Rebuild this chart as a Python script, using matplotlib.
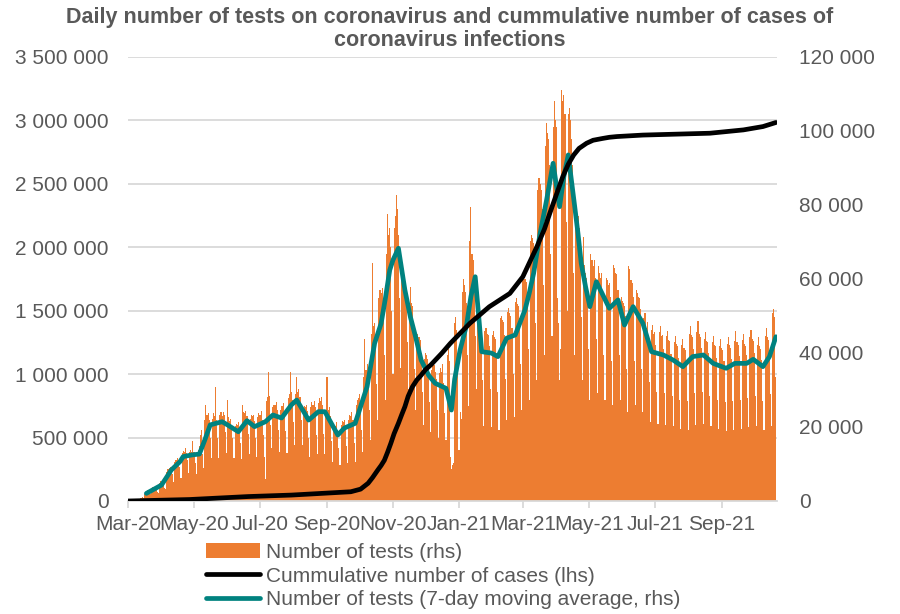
import numpy as np
import pandas as pd
import matplotlib
matplotlib.use("Agg")
import matplotlib.pyplot as plt
import matplotlib.dates as mdates
from matplotlib.ticker import FuncFormatter, MultipleLocator
from matplotlib.patches import Patch
from matplotlib.lines import Line2D

plt.rcParams['font.family'] = ['Liberation Sans', 'DejaVu Sans']

# daily number of tests, in thousands, from Sun 1 Mar 2020 (then Mon..Sun rows)
start = pd.Timestamp("2020-03-01")
tests_k = [
    0,
    0, 0, 0, 0, 0, 0, 0,
    0, 0, 0, 0, 20, 30, 25,
    55, 70, 80, 85, 90, 65, 55,
    100, 110, 105, 115, 100, 70, 60,
    140, 155, 150, 160, 145, 100, 95,
    230, 250, 260, 265, 255, 210, 150,
    310, 325, 320, 340, 320, 270, 180,
    375, 395, 385, 420, 380, 320, 220,
    390, 400, 390, 470, 385, 300, 210,
    390, 400, 430, 520, 560, 370, 260,
    640, 760, 680, 690, 640, 500, 340,
    650, 690, 670, 900, 640, 500, 340,
    680, 700, 670, 700, 680, 540, 380,
    800, 660, 630, 650, 600, 500, 340,
    590, 610, 600, 620, 570, 460, 330,
    760, 700, 690, 710, 670, 530, 370,
    650, 680, 670, 680, 630, 500, 350,
    660, 690, 680, 710, 640, 520, 350,
    170, 790, 820, 1020, 830, 600, 420,
    740, 760, 760, 780, 720, 560, 390,
    720, 750, 750, 770, 710, 550, 380,
    810, 840, 1020, 860, 800, 620, 440,
    840, 980, 860, 880, 820, 640, 440,
    720, 750, 740, 760, 710, 500, 350,
    740, 780, 760, 790, 740, 520, 370,
    770, 810, 790, 820, 760, 530, 370,
    700, 980, 720, 740, 670, 470, 310,
    580, 600, 590, 620, 560, 420, 280,
    600, 630, 620, 640, 590, 430, 300,
    640, 680, 670, 700, 640, 460, 310,
    760, 800, 810, 840, 780, 560, 390,
    980, 1280, 1030, 1080, 980, 720, 480,
    1320, 1880, 1380, 1400, 1280, 920, 640,
    1600, 1660, 1640, 1680, 1560, 1150, 800,
    1950, 2260, 2100, 2150, 2000, 1500, 1000,
    2150, 2250, 2410, 2300, 2100, 1600, 1050,
    1800, 1850, 1830, 1780, 1660, 1250, 880,
    1500, 1690, 1560, 1540, 1420, 1040, 720,
    1270, 1320, 1290, 1270, 1170, 860, 600,
    1120, 1170, 1150, 1120, 1050, 780, 540,
    1030, 1090, 1070, 1020, 960, 720, 500,
    1010, 1050, 1020, 1080, 930, 690, 480,
    1150, 1200, 1100, 350, 250, 280, 300,
    1400, 1450, 1350, 1100, 400, 700, 650,
    1650, 1750, 1700, 1650, 1560, 1150, 750,
    2050, 2320, 1950, 1900, 1760, 1300, 880,
    1400, 1360, 1340, 1310, 1220, 950, 590,
    1340, 1360, 1320, 1310, 1220, 880, 580,
    1310, 1340, 1290, 1280, 1170, 860, 560,
    1440, 1460, 1430, 1410, 1310, 960, 640,
    1490, 1520, 1480, 1460, 1360, 1000, 660,
    1570, 1600, 1550, 1540, 1440, 1080, 720,
    1750, 1800, 1750, 1730, 1600, 1200, 800,
    2050, 2100, 2070, 2030, 1900, 1400, 950,
    2450, 2550, 2500, 2450, 2300, 1700, 1150,
    2800, 2980, 2900, 2850, 2650, 1950, 1300,
    2950, 3150, 3000, 2950, 1600, 1400, 950,
    1200, 3240, 3150, 3200, 3050, 2200, 1500,
    3050, 3100, 3000, 2850, 2650, 1800, 1150,
    2350, 2300, 2250, 2150, 2000, 1450, 950,
    2080, 1860, 1800, 1760, 1660, 1200, 800,
    1950, 1900, 1850, 1900, 1760, 1280, 850,
    1850, 1800, 1760, 1800, 1660, 1150, 800,
    1760, 1740, 1700, 1720, 1610, 1100, 760,
    1860, 1840, 1800, 1790, 1660, 1150, 800,
    1610, 1580, 1560, 1540, 1460, 1040, 700,
    1850, 1830, 1740, 1720, 1610, 1100, 760,
    1660, 1640, 1610, 1600, 1510, 1040, 700,
    1440, 1480, 1360, 1410, 1270, 940, 620,
    1350, 1390, 1320, 1330, 1230, 860, 610,
    1330, 1380, 1300, 1310, 1200, 850, 600,
    1300, 1340, 1270, 1260, 1160, 830, 590,
    1250, 1300, 1240, 1220, 1130, 800, 570,
    1230, 1280, 1210, 1190, 1110, 790, 560,
    1320, 1380, 1310, 1290, 1200, 850, 600,
    1330, 1420, 1320, 1290, 1210, 860, 610,
    1280, 1330, 1260, 1250, 1170, 830, 590,
    1250, 1300, 1230, 1220, 1130, 800, 570,
    1220, 1280, 1210, 1190, 1100, 780, 550,
    1240, 1290, 1230, 1210, 1120, 790, 560,
    1260, 1340, 1250, 1230, 1140, 800, 570,
    1270, 1320, 1240, 1220, 1150, 810, 580,
    1290, 1350, 1280, 1260, 1170, 830, 590,
    1230, 1290, 1220, 1200, 1110, 790, 560,
    1300, 1360, 1290, 1270, 1180, 840, 590,
    1480, 1510, 1450, 980,
]

# 7-day moving average of tests (thousands), read at day offsets from start
ma_day = [17, 31, 40, 48, 51, 59, 66, 71, 76, 87, 92, 102, 110, 117, 127, 134,
          142, 151, 156, 167, 176, 182, 194, 200, 210, 214, 221, 228, 234, 238,
          242, 245, 250, 256, 261, 266, 271, 278, 284, 294, 299, 302, 307, 313,
          317, 321, 324, 327, 336, 342, 350, 358, 367, 371, 375, 381, 387, 393,
          399, 403, 407, 413, 416, 419, 423, 427, 433, 445, 453, 459, 467, 476,
          484, 495, 504, 513, 522, 532, 541, 553, 561, 572, 578, 587, 593, 599]
ma_k = [60, 126, 244, 310, 350, 363, 370, 481, 600, 625, 600, 546, 633, 586, 625, 678,
        654, 757, 796, 638, 704, 704, 520, 575, 612, 717, 901, 1243, 1400, 1600,
        1821, 1900, 1992, 1663, 1453, 1290, 1111, 990, 928, 888, 717, 960, 1190, 1387,
        1611, 1768, 1480, 1177, 1166, 1138, 1283, 1309, 1506, 1640, 1795, 2110, 2373, 2662,
        2320, 2560, 2728, 2320, 2110, 1874, 1690, 1532, 1729, 1519, 1585, 1387, 1532, 1401,
        1177, 1151, 1111, 1059, 1138, 1151, 1085, 1046, 1085, 1085, 1117, 1059, 1138, 1295]

# cumulative number of cases (thousands)
cases_day = [0, 57, 111, 151, 206, 215, 222, 226, 231, 234, 237, 240, 243, 246, 250,
             253, 256, 259, 263, 267, 271, 275, 280, 290, 298, 316, 334, 353, 365,
             378, 385, 390, 396, 402, 407, 412, 417, 424, 430, 439, 445, 452, 476,
             538, 569, 587, 599]
cases_k = [0, 0.4, 1.2, 1.6, 2.5, 3.2, 4.8, 6.3, 8.4, 9.6, 11, 13.2, 15.6, 18.2, 21,
           23.3, 25.5, 28.3, 30.9, 32.7, 34, 35.5, 36.8, 39.9, 42.6, 48, 52.5, 56.1, 60.6,
           68.7, 73.5, 77.8, 82.8, 87.7, 91, 93.5, 95.3, 96.7, 97.5, 98, 98.3, 98.5, 98.9,
           99.4, 100.3, 101.2, 102.3]

title_lines = ["Daily number of tests on coronavirus and cummulative number of cases of",
               "coronavirus infections"]

ORANGE = "#ED7D31"
TEAL = "#00827F"
GREY = "#595959"
GRID = "#D9D9D9"

dates = pd.date_range(start, periods=len(tests_k), freq="D")
tests = np.array(tests_k) * 1000
ma_dates = start + pd.to_timedelta(ma_day, unit="D")
cases_dates = start + pd.to_timedelta(cases_day, unit="D")


def space_fmt(v, pos):
    return f"{int(round(v)):,}".replace(",", " ")


fig = plt.figure(figsize=(9, 6.14), dpi=100)
ax = fig.add_axes([128 / 900, 1 - 501 / 614, (777 - 128) / 900, (501 - 57) / 614])
ax2 = ax.twinx()

ax.bar(dates, tests, width=1.0, color=ORANGE, linewidth=0, antialiased=False, zorder=2)
ax.plot(ma_dates, np.array(ma_k) * 1000, color=TEAL, lw=3.4, zorder=3,
        solid_capstyle="round", solid_joinstyle="round")
ax2.plot(cases_dates, np.array(cases_k) * 1000, color="black", lw=3.4,
         solid_capstyle="round", solid_joinstyle="round")

ax.set_ylim(0, 3500000)
ax.yaxis.set_major_locator(MultipleLocator(500000))
ax.yaxis.set_major_formatter(FuncFormatter(space_fmt))
ax2.set_ylim(0, 120000)
ax2.yaxis.set_major_locator(MultipleLocator(20000))
ax2.yaxis.set_major_formatter(FuncFormatter(space_fmt))

ax.set_xlim(start, pd.Timestamp("2021-10-22"))
ax.xaxis.set_major_locator(mdates.MonthLocator(bymonth=[1, 3, 5, 7, 9, 11]))
ax.xaxis.set_major_formatter(mdates.DateFormatter("%b-%y"))

ax.set_axisbelow(True)
ax.yaxis.grid(True, color=GRID, lw=1.3)
for a in (ax, ax2):
    for s in a.spines.values():
        s.set_visible(False)
ax.spines["bottom"].set_visible(True)
ax.spines["bottom"].set_color(GRID)
ax.spines["bottom"].set_linewidth(1.3)

ax.tick_params(axis="x", colors=GRID, length=5, width=1.3, pad=5, labelsize=15, labelcolor=GREY)
ax.tick_params(axis="y", length=0, pad=14, labelsize=15, labelcolor=GREY)
ax2.tick_params(axis="y", length=0, pad=16, labelsize=15, labelcolor=GREY)

# title as two separate lines so the short second line stays clear of the tick labels
fig.text(0.5, 1 - 18 / 614, title_lines[0], ha="center", va="center",
         fontsize=15.5, fontweight="bold", color=GREY)
fig.text(0.5, 1 - 41 / 614, title_lines[1], ha="center", va="center",
         fontsize=15.5, fontweight="bold", color=GREY)

handles = [Patch(facecolor=ORANGE, edgecolor="none"),
           Line2D([], [], color="black", lw=3.4, solid_capstyle="round"),
           Line2D([], [], color=TEAL, lw=3.4, solid_capstyle="round")]
labels = ["Number of tests (rhs)", "Cummulative number of cases (lhs)",
          "Number of tests (7-day moving average, rhs)"]
leg = fig.legend(handles, labels, loc="upper left", bbox_to_anchor=(206 / 900, 1 - 543 / 614),
                 frameon=False, fontsize=15, handlelength=2.6, handletextpad=0.3,
                 labelspacing=0.22, borderpad=0, borderaxespad=0)
for t in leg.get_texts():
    t.set_color(GREY)

fig.savefig("out.png", dpi=100)
